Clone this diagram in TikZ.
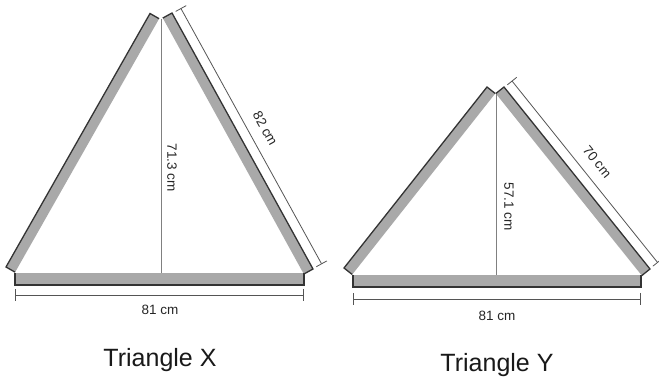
\documentclass[tikz,border=0pt]{standalone}
\usepackage{fontspec}
\setmainfont{Liberation Sans}
\usetikzlibrary{arrows.meta,calc}
\definecolor{Slat}{HTML}{A9A9A9}
\definecolor{Edge}{HTML}{333333}
\definecolor{Dim}{HTML}{555555}

\begin{document}
\begin{tikzpicture}[
      x=1pt, y=-1pt,
      slat/.style={fill=Slat},
      edge/.style={draw=Edge, line width=1.3pt, line join=miter},
      heightline/.style={draw=Dim!75, line width=0.8pt},
      dimline/.style={draw=Dim, line width=0.8pt, {Bar[width=12pt]}-{Bar[width=12pt]}},
      dimlabel/.style={inner sep=0pt, text=black!85, font=\fontsize{13.5}{16}\selectfont},
      title/.style={inner sep=0pt, text=black!90, font=\fontsize{25}{30}\selectfont}
    ]
      \fill[white] (0,0) rectangle (659,379);
      \useasboundingbox (0,0) rectangle (659,379);

      % Triangle X
      \coordinate (XLB) at (6,267);
      \coordinate (XLT) at (150,13.5);
      \coordinate (XRT) at (172,13);
      \coordinate (XRB) at (313,269);
      \coordinate (XLBi) at ($(XLB)!10.5pt!-90:(XLT)$);
      \coordinate (XLTi) at ($(XLT)!10.5pt!90:(XLB)$);
      \coordinate (XRTi) at ($(XRT)!10.5pt!-90:(XRB)$);
      \coordinate (XRBi) at ($(XRB)!10.5pt!90:(XRT)$);
      \coordinate (XBarA) at (15,273);
      \coordinate (XBarB) at (304,285);
      \coordinate (XApex) at (161,19);
      \coordinate (XFoot) at (161,273);
      \coordinate (XDimT) at ($(XRT)!10pt!90:(XRB)$);
      \coordinate (XDimB) at ($(XRB)!10pt!-90:(XRT)$);
      \coordinate (XBaseA) at (15,295);
      \coordinate (XBaseB) at (304,295);

      \fill[slat] (XLB) -- (XLT) -- (XLTi) -- (XLBi) -- cycle;
      \fill[slat] (XRT) -- (XRB) -- (XRBi) -- (XRTi) -- cycle;
      \fill[slat] (XBarA) rectangle (XBarB);
      \draw[edge] (XLBi) -- (XLB) -- (XLT) -- (XLTi);
      \draw[edge] (XRTi) -- (XRT) -- (XRB) -- (XRBi);
      \draw[edge] (XBarA) -- (XBarA |- XBarB) -- (XBarB) -- (XBarB |- XBarA);
      \draw[heightline] (XApex) -- (XFoot);
      \draw[dimline] (XDimT) -- (XDimB);
      \draw[dimline] (XBaseA) -- (XBaseB);
      \node[dimlabel, rotate=-90] (XHeight) at (172,168) {71.3 cm};
      \node[dimlabel, rotate=-61] (XSide) at ($(XDimT)!0.5!(XDimB)!16pt!90:(XDimB)$) {82 cm};
      \node[dimlabel] (XBase) at (160,310) {81 cm};
      \node[title] (XTitle) at (160,360) {Triangle X};

      % Triangle Y
      \coordinate (YLB) at (344,268);
      \coordinate (YLT) at (487,87);
      \coordinate (YRT) at (504,87);
      \coordinate (YRB) at (650,269);
      \coordinate (YLBi) at ($(YLB)!10.5pt!-90:(YLT)$);
      \coordinate (YLTi) at ($(YLT)!10.5pt!90:(YLB)$);
      \coordinate (YRTi) at ($(YRT)!10.5pt!-90:(YRB)$);
      \coordinate (YRBi) at ($(YRB)!10.5pt!90:(YRT)$);
      \coordinate (YBarA) at (353,275);
      \coordinate (YBarB) at (641,287);
      \coordinate (YApex) at (496,94);
      \coordinate (YFoot) at (496,275);
      \coordinate (YDimT) at ($(YRT)!10pt!90:(YRB)$);
      \coordinate (YDimB) at ($(YRB)!10pt!-90:(YRT)$);
      \coordinate (YBaseA) at (353,299);
      \coordinate (YBaseB) at (641,299);

      \fill[slat] (YLB) -- (YLT) -- (YLTi) -- (YLBi) -- cycle;
      \fill[slat] (YRT) -- (YRB) -- (YRBi) -- (YRTi) -- cycle;
      \fill[slat] (YBarA) rectangle (YBarB);
      \draw[edge] (YLBi) -- (YLB) -- (YLT) -- (YLTi);
      \draw[edge] (YRTi) -- (YRT) -- (YRB) -- (YRBi);
      \draw[edge] (YBarA) -- (YBarA |- YBarB) -- (YBarB) -- (YBarB |- YBarA);
      \draw[heightline] (YApex) -- (YFoot);
      \draw[dimline] (YDimT) -- (YDimB);
      \draw[dimline] (YBaseA) -- (YBaseB);
      \node[dimlabel, rotate=-90] (YHeight) at (509,207) {57.1 cm};
      \node[dimlabel, rotate=-51.3] (YSide) at ($(YDimT)!0.5!(YDimB)!16pt!90:(YDimB)$) {70 cm};
      \node[dimlabel] (YBase) at (497,316) {81 cm};
      \node[title] (YTitle) at (497,365) {Triangle Y};
    \end{tikzpicture}
\end{document}
